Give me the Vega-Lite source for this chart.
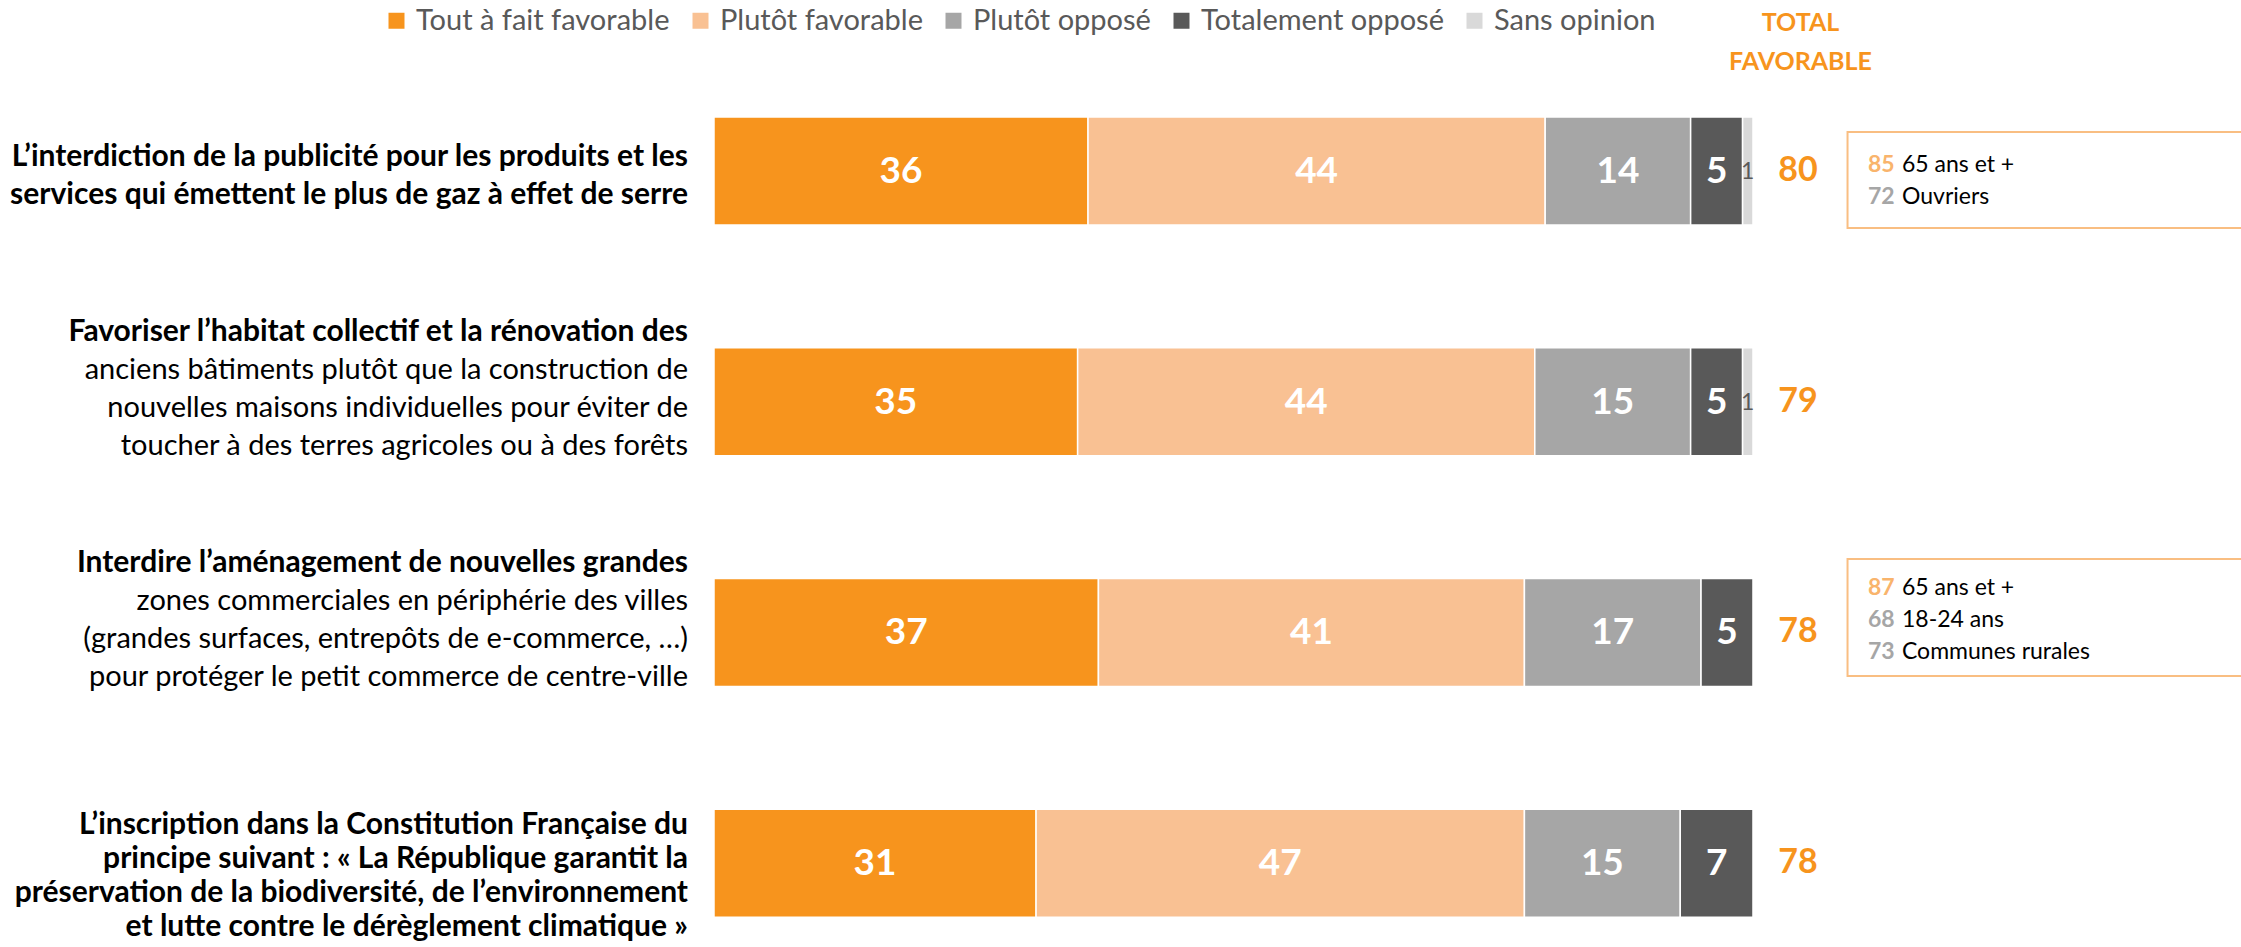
{
  "$schema": "https://vega.github.io/schema/vega-lite/v6.json",
  "width": 2241,
  "height": 947,
  "autosize": {"type": "none"},
  "padding": 0,
  "background": "white",
  "config": {"view": {"stroke": null}, "font": "Lato"},
  "resolve": {"axis": {"x": "independent", "y": "independent"}, "scale": {"yOffset": "independent"}},
  "datasets": {
    "reponses": [
      {"item": "Publicité", "reponse": "Tout à fait favorable", "ordre": 1, "pct": 36},
      {"item": "Publicité", "reponse": "Plutôt favorable", "ordre": 2, "pct": 44},
      {"item": "Publicité", "reponse": "Plutôt opposé", "ordre": 3, "pct": 14},
      {"item": "Publicité", "reponse": "Totalement opposé", "ordre": 4, "pct": 5},
      {"item": "Publicité", "reponse": "Sans opinion", "ordre": 5, "pct": 1},
      {"item": "Habitat", "reponse": "Tout à fait favorable", "ordre": 1, "pct": 35},
      {"item": "Habitat", "reponse": "Plutôt favorable", "ordre": 2, "pct": 44},
      {"item": "Habitat", "reponse": "Plutôt opposé", "ordre": 3, "pct": 15},
      {"item": "Habitat", "reponse": "Totalement opposé", "ordre": 4, "pct": 5},
      {"item": "Habitat", "reponse": "Sans opinion", "ordre": 5, "pct": 1},
      {"item": "Zones commerciales", "reponse": "Tout à fait favorable", "ordre": 1, "pct": 37},
      {"item": "Zones commerciales", "reponse": "Plutôt favorable", "ordre": 2, "pct": 41},
      {"item": "Zones commerciales", "reponse": "Plutôt opposé", "ordre": 3, "pct": 17},
      {"item": "Zones commerciales", "reponse": "Totalement opposé", "ordre": 4, "pct": 5},
      {"item": "Constitution", "reponse": "Tout à fait favorable", "ordre": 1, "pct": 31},
      {"item": "Constitution", "reponse": "Plutôt favorable", "ordre": 2, "pct": 47},
      {"item": "Constitution", "reponse": "Plutôt opposé", "ordre": 3, "pct": 15},
      {"item": "Constitution", "reponse": "Totalement opposé", "ordre": 4, "pct": 7}
    ],
    "totaux": [
      {"item": "Publicité", "total": 80},
      {"item": "Habitat", "total": 79},
      {"item": "Zones commerciales", "total": 78},
      {"item": "Constitution", "total": 78}
    ],
    "libelles": [
      {"item": "Publicité",
       "gras": ["L’interdiction de la publicité pour les produits et les", "services qui émettent le plus de gaz à effet de serre"],
       "normal": ["", ""]},
      {"item": "Habitat",
       "gras": ["Favoriser l’habitat collectif et la rénovation des", "", "", ""],
       "normal": ["", "anciens bâtiments plutôt que la construction de", "nouvelles maisons individuelles pour éviter de", "toucher à des terres agricoles ou à des forêts"]},
      {"item": "Zones commerciales",
       "gras": ["Interdire l’aménagement de nouvelles grandes", "", "", ""],
       "normal": ["", "zones commerciales en périphérie des villes", "(grandes surfaces, entrepôts de e-commerce, …)", "pour protéger le petit commerce de centre-ville"]},
      {"item": "Constitution",
       "gras": ["L’inscription dans la Constitution Française du", "principe suivant : « La République garantit la", "préservation de la biodiversité, de l’environnement", "et lutte contre le dérèglement climatique »"],
       "normal": ["", "", "", ""]}
    ],
    "zooms": [
      {"item": "Publicité", "rang": 1, "score": 85, "groupe": "65 ans et +", "niveau": "haut"},
      {"item": "Publicité", "rang": 2, "score": 72, "groupe": "Ouvriers", "niveau": "bas"},
      {"item": "Zones commerciales", "rang": 1, "score": 87, "groupe": "65 ans et +", "niveau": "haut"},
      {"item": "Zones commerciales", "rang": 2, "score": 68, "groupe": "18-24 ans", "niveau": "bas"},
      {"item": "Zones commerciales", "rang": 3, "score": 73, "groupe": "Communes rurales", "niveau": "bas"}
    ]
  },
  "layer": [
    {
      "data": {"name": "reponses"},
      "transform": [
        {"stack": "pct", "groupby": ["item"], "sort": [{"field": "ordre", "order": "ascending"}], "as": ["debut", "fin"]}
      ],
      "mark": {"type": "bar", "stroke": "white", "strokeWidth": 1.5},
      "encoding": {
        "y": {"field": "item", "type": "nominal",
              "scale": {"type": "band", "domain": ["Publicité", "Habitat", "Zones commerciales", "Constitution"], "paddingInner": 0.532, "paddingOuter": 0.318, "align": 0.797},
              "axis": null},
        "x": {"field": "debut", "type": "quantitative",
              "scale": {"domain": [-68.72, 146.97], "nice": false, "zero": false},
              "axis": {"orient": "top", "title": ["TOTAL", "FAVORABLE"], "titleX": 1800, "titleY": 22,
                       "titleAlign": "center", "titleBaseline": "middle", "titleFont": "Lato", "titleFontSize": 25,
                       "titleFontWeight": "bold", "titleColor": "#F7941D", "titleLineHeight": 39,
                       "labels": false, "ticks": false, "domain": false, "grid": false, "minExtent": 0, "maxExtent": 0}},
        "x2": {"field": "fin"},
        "color": {"field": "reponse", "type": "nominal",
                  "scale": {"domain": ["Tout à fait favorable", "Plutôt favorable", "Plutôt opposé", "Totalement opposé", "Sans opinion"],
                            "range": ["#F7941D", "#F9C193", "#A6A6A6", "#595959", "#D9D9D9"]},
                  "legend": {"title": null, "orient": "none", "legendX": 382, "legendY": 6, "direction": "horizontal",
                             "symbolType": "square", "symbolSize": 256, "symbolStrokeWidth": 0, "symbolOpacity": 1,
                             "labelFont": "Lato", "labelFontSize": 29, "labelColor": "#595959", "labelOffset": 5,
                             "columnPadding": 16, "labelLimit": 0, "padding": 0}}
      }
    },
    {
      "data": {"name": "reponses"},
      "transform": [
        {"stack": "pct", "groupby": ["item"], "sort": [{"field": "ordre", "order": "ascending"}], "as": ["debut", "fin"]},
        {"calculate": "(datum.debut + datum.fin) / 2", "as": "milieu"},
        {"filter": "datum.reponse != 'Sans opinion'"}
      ],
      "mark": {"type": "text", "font": "Lato", "fontSize": 37, "fontWeight": "bold", "color": "white", "baseline": "middle", "dy": 1},
      "encoding": {
        "y": {"field": "item", "type": "nominal", "axis": null},
        "x": {"field": "milieu", "type": "quantitative", "axis": null},
        "text": {"field": "pct", "type": "quantitative"}
      }
    },
    {
      "data": {"name": "reponses"},
      "transform": [
        {"stack": "pct", "groupby": ["item"], "sort": [{"field": "ordre", "order": "ascending"}], "as": ["debut", "fin"]},
        {"calculate": "(datum.debut + datum.fin) / 2", "as": "milieu"},
        {"filter": "datum.reponse == 'Sans opinion'"}
      ],
      "mark": {"type": "text", "font": "Lato", "fontSize": 23, "color": "#595959", "baseline": "middle", "dy": 1},
      "encoding": {
        "y": {"field": "item", "type": "nominal", "axis": null},
        "x": {"field": "milieu", "type": "quantitative", "axis": null},
        "text": {"field": "pct", "type": "quantitative"}
      }
    },
    {
      "data": {"name": "totaux"},
      "mark": {"type": "text", "font": "Lato", "fontSize": 34, "fontWeight": "bold", "color": "#F7941D", "baseline": "middle", "align": "center"},
      "encoding": {
        "y": {"field": "item", "type": "nominal", "axis": null},
        "x": {"datum": 104.33, "axis": null},
        "text": {"field": "total", "type": "quantitative"}
      }
    },
    {
      "data": {"name": "libelles"},
      "transform": [{"filter": "datum.item == 'Publicité'"}],
      "mark": {"type": "text", "font": "Lato", "fontSize": 30, "fontWeight": "bold", "color": "#000000", "baseline": "middle", "align": "right", "lineHeight": 38, "dy": -14},
      "encoding": {
        "y": {"field": "item", "type": "nominal", "axis": null},
        "x": {"datum": -2.5, "axis": null},
        "text": {"field": "gras"}
      }
    },
    {
      "data": {"name": "libelles"},
      "transform": [{"filter": "datum.item == 'Habitat' || datum.item == 'Zones commerciales'"}],
      "mark": {"type": "text", "font": "Lato", "fontSize": 30, "fontWeight": "bold", "color": "#000000", "baseline": "middle", "align": "right", "lineHeight": 38, "dy": -69.5},
      "encoding": {
        "y": {"field": "item", "type": "nominal", "axis": null},
        "x": {"datum": -2.5, "axis": null},
        "text": {"field": "gras"}
      }
    },
    {
      "data": {"name": "libelles"},
      "transform": [{"filter": "datum.item == 'Habitat' || datum.item == 'Zones commerciales'"}],
      "mark": {"type": "text", "font": "Lato", "fontSize": 29, "fontWeight": "normal", "color": "#000000", "baseline": "middle", "align": "right", "lineHeight": 38, "dy": -69.5},
      "encoding": {
        "y": {"field": "item", "type": "nominal", "axis": null},
        "x": {"datum": -2.5, "axis": null},
        "text": {"field": "normal"}
      }
    },
    {
      "data": {"name": "libelles"},
      "transform": [{"filter": "datum.item == 'Constitution'"}],
      "mark": {"type": "text", "font": "Lato", "fontSize": 30, "fontWeight": "bold", "color": "#000000", "baseline": "middle", "align": "right", "lineHeight": 34, "dy": -38},
      "encoding": {
        "y": {"field": "item", "type": "nominal", "axis": null},
        "x": {"datum": -2.5, "axis": null},
        "text": {"field": "gras"}
      }
    },
    {
      "data": {"name": "zooms"},
      "transform": [
        {"filter": "datum.item == 'Publicité'"},
        {"aggregate": [{"op": "count", "as": "n"}], "groupby": ["item"]}
      ],
      "mark": {"type": "bar", "height": 96, "yOffset": 9, "fill": "white", "stroke": "#F9BE82", "strokeWidth": 2, "clip": true},
      "encoding": {
        "y": {"field": "item", "type": "nominal", "axis": null},
        "x": {"datum": 109.1, "axis": null},
        "x2": {"datum": 150}
      }
    },
    {
      "data": {"name": "zooms"},
      "transform": [
        {"filter": "datum.item == 'Zones commerciales'"},
        {"aggregate": [{"op": "count", "as": "n"}], "groupby": ["item"]}
      ],
      "mark": {"type": "bar", "height": 117, "yOffset": -15, "fill": "white", "stroke": "#F9BE82", "strokeWidth": 2, "clip": true},
      "encoding": {
        "y": {"field": "item", "type": "nominal", "axis": null},
        "x": {"datum": 109.1, "axis": null},
        "x2": {"datum": 150}
      }
    },
    {
      "data": {"name": "zooms"},
      "transform": [{"filter": "datum.item == 'Publicité'"}],
      "mark": {"type": "text", "font": "Lato", "fontSize": 23, "fontWeight": "bold", "baseline": "middle", "align": "left", "dy": 10.5},
      "encoding": {
        "y": {"field": "item", "type": "nominal", "axis": null},
        "yOffset": {"field": "rang", "type": "ordinal", "scale": {"type": "band", "paddingInner": 0, "paddingOuter": 0.6875}},
        "x": {"datum": 111.07, "axis": null},
        "text": {"field": "score", "type": "quantitative"},
        "color": {"condition": {"test": "datum.niveau == 'haut'", "value": "#F9B46C"}, "value": "#A6A6A6"}
      }
    },
    {
      "data": {"name": "zooms"},
      "transform": [{"filter": "datum.item == 'Publicité'"}],
      "mark": {"type": "text", "font": "Lato", "fontSize": 23, "fontWeight": "normal", "color": "#000000", "baseline": "middle", "align": "left", "dy": 10.5},
      "encoding": {
        "y": {"field": "item", "type": "nominal", "axis": null},
        "yOffset": {"field": "rang", "type": "ordinal", "scale": {"type": "band", "paddingInner": 0, "paddingOuter": 0.6875}},
        "x": {"datum": 114.34, "axis": null},
        "text": {"field": "groupe", "type": "nominal"}
      }
    },
    {
      "data": {"name": "zooms"},
      "transform": [{"filter": "datum.item == 'Zones commerciales'"}],
      "mark": {"type": "text", "font": "Lato", "fontSize": 23, "fontWeight": "bold", "baseline": "middle", "align": "left", "dy": -12},
      "encoding": {
        "y": {"field": "item", "type": "nominal", "axis": null},
        "yOffset": {"field": "rang", "type": "ordinal", "scale": {"type": "band", "paddingInner": 0, "paddingOuter": 0.1875}},
        "x": {"datum": 111.07, "axis": null},
        "text": {"field": "score", "type": "quantitative"},
        "color": {"condition": {"test": "datum.niveau == 'haut'", "value": "#F9B46C"}, "value": "#A6A6A6"}
      }
    },
    {
      "data": {"name": "zooms"},
      "transform": [{"filter": "datum.item == 'Zones commerciales'"}],
      "mark": {"type": "text", "font": "Lato", "fontSize": 23, "fontWeight": "normal", "color": "#000000", "baseline": "middle", "align": "left", "dy": -12},
      "encoding": {
        "y": {"field": "item", "type": "nominal", "axis": null},
        "yOffset": {"field": "rang", "type": "ordinal", "scale": {"type": "band", "paddingInner": 0, "paddingOuter": 0.1875}},
        "x": {"datum": 114.34, "axis": null},
        "text": {"field": "groupe", "type": "nominal"}
      }
    }
  ]
}
